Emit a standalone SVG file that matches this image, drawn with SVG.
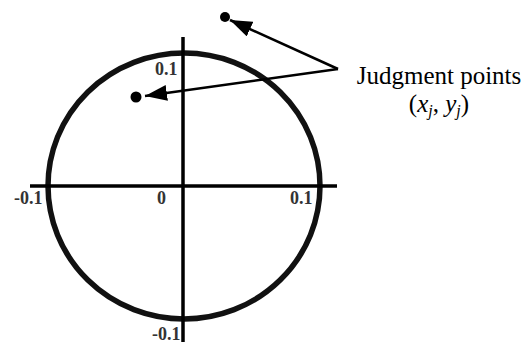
<svg xmlns="http://www.w3.org/2000/svg" width="532" height="345" viewBox="0 0 532 345">
<style>
.axis{stroke:#000;stroke-width:3.5;fill:none}
.circ{stroke:#111;stroke-width:5.5;fill:none}
.tick{font-family:"Liberation Serif","Times New Roman",serif;font-size:18px;font-weight:bold;fill:#333}
.lbl{font-family:"Liberation Serif","Times New Roman",serif;font-size:25px;fill:#000}
.arr{stroke:#000;stroke-width:2.5;fill:none;marker-end:url(#ah)}
.dot{fill:#000}
</style>
<defs>
<marker id="ah" viewBox="0 0 22 16" refX="22" refY="8" markerWidth="22" markerHeight="16" markerUnits="userSpaceOnUse" orient="auto">
<path d="M0,0 L22,8 L0,16 z" fill="#000"/>
</marker>
</defs>
<g id="plot">
<ellipse class="circ" cx="184" cy="186" rx="136" ry="133"/>
<line class="axis" x1="183" y1="37" x2="183" y2="342"/>
<line class="axis" x1="30" y1="186" x2="337" y2="186"/>
<text class="tick" x="155" y="75">0.1</text>
<text class="tick" x="14" y="204">-0.1</text>
<text class="tick" x="157" y="204">0</text>
<text class="tick" x="290" y="204">0.1</text>
<text class="tick" x="152" y="340">-0.1</text>
</g>
<g id="point1"><circle class="dot" cx="225" cy="17" r="5"/></g>
<g id="point2"><circle class="dot" cx="136" cy="97" r="5.5"/></g>
<g id="label">
<text class="lbl" x="439" y="84" text-anchor="middle">Judgment points</text>
<text class="lbl" x="439" y="112" text-anchor="middle">(<tspan font-style="italic">x</tspan><tspan font-style="italic" font-size="16" dy="4">j</tspan><tspan dy="-4">, </tspan><tspan font-style="italic">y</tspan><tspan font-style="italic" font-size="16" dy="4">j</tspan><tspan dy="-4">)</tspan></text>
</g>
<g id="connectors">
<path class="arr" d="M338,69 L230,20"/>
<path class="arr" d="M338,69 L145,96"/>
</g>
</svg>
